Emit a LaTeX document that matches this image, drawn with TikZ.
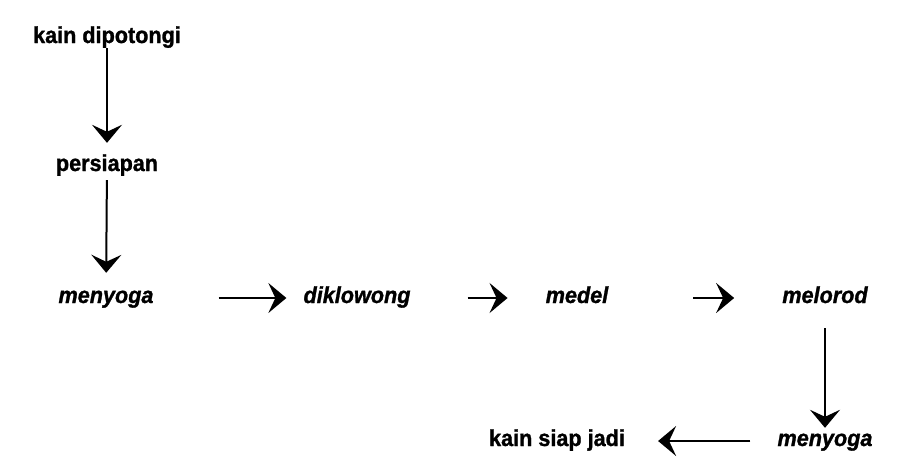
\documentclass[tikz,border=0pt]{standalone}
\usepackage{fontspec}
\setmainfont{Liberation Sans}[FakeBold=1.2,FakeStretch=0.94]
\usepackage{tikz}
\usetikzlibrary{arrows.meta}

\tikzset{
  tahap/.style={inner sep=0pt, text height=15pt, text depth=5pt, font=\fontsize{23}{25}\selectfont\bfseries},
  olah/.style={tahap, font=\fontsize{23}{25}\selectfont\bfseries\itshape},
  alur/.style={line width=2pt, -{Stealth[length=18pt,width=30pt,inset=7pt]}},
}

\begin{document}
\begin{tikzpicture}[x=1pt,y=-1pt]
            \useasboundingbox (0,0) rectangle (911,472);

            \node[tahap] (potong) at (107,38) {kain dipotongi};
            \node[tahap] (siap) at (107,166) {persiapan};
            \node[olah] (yoga) at (106,298) {menyoga};
            \node[olah] (klowong) at (357,298) {diklowong};
            \node[olah] (medel) at (577,298) {medel};
            \node[olah] (lorod) at (825,298) {melorod};
            \node[olah] (yogaa) at (825,441) {menyoga};
            \node[tahap] (jadi) at (557,441) {kain siap jadi};

            %%%% turun
            \draw (potong) edge[alur,shorten >=13pt] (siap);
            \draw (siap) edge[alur,shorten <=4pt,shorten >=15pt] (yoga);
            %%%% ke kanan
            \draw (yoga) edge[alur,shorten <=65pt,shorten >=17pt] (klowong);
            \draw (klowong) edge[alur,shorten <=57pt,shorten >=38pt] (medel);
            \draw (medel) edge[alur,shorten <=85pt,shorten >=48pt] (lorod);
            %%%% lorod lalu yoga lagi
            \draw (lorod) edge[alur,shorten <=20pt,shorten >=3pt] (yogaa);
            \draw (yogaa) edge[alur,shorten <=27pt,shorten >=33pt] (jadi);
\end{tikzpicture}
\end{document}
